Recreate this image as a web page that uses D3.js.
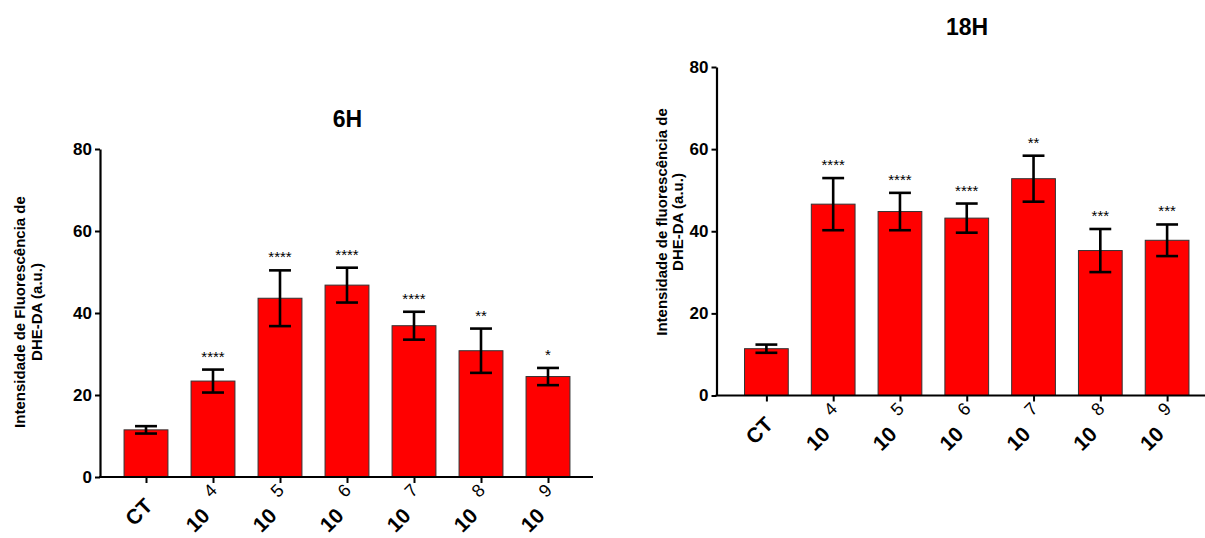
<!DOCTYPE html>
<html><head><meta charset="utf-8">
<script src="https://cdn.jsdelivr.net/npm/d3@7"></script>
<style>
body{margin:0;background:#fff}
text{font-family:"Liberation Sans",Arial,Helvetica,sans-serif;fill:#000}
</style>
</head><body>
<svg id="c" width="1205" height="538" xmlns="http://www.w3.org/2000/svg"></svg>
<script>
// ---- data ----
const categories = ["CT","10^4","10^5","10^6","10^7","10^8","10^9"];
const labelBase = ["CT","10","10","10","10","10","10"];
const labelExp  = ["","4","5","6","7","8","9"];
const yTicks = [0,20,40,60,80];

const mean6H = [11.5, 23.4, 43.6, 46.8, 36.9, 30.8, 24.5];
const sem6H  = [0.9, 2.8, 6.8, 4.25, 3.4, 5.4, 2.1];
const sig6H  = ["","****","****","****","****","**","*"];

const mean18H = [11.4, 46.6, 44.8, 43.2, 52.8, 35.3, 37.8];
const sem18H  = [1.0, 6.35, 4.55, 3.55, 5.6, 5.25, 3.85];
const sig18H  = ["","****","****","****","**","***","***"];

const svg = d3.select("#c");
svg.append("rect").attr("width",1205).attr("height",538).attr("fill","#fff");

function drawPanel(cfg){
  const g = svg.append("g");
  const y = d3.scaleLinear().domain([0,80]).range([cfg.y0, cfg.yTop]);
  const x = d3.scalePoint().domain(categories).range(cfg.pointRange).padding(0.5);
  const bw = x.step()*0.655;
  const data = categories.map((c,i)=>({c, m:cfg.mean[i], s:cfg.sem[i], sig:cfg.sig[i], base:labelBase[i], exp:labelExp[i]}));

  // bars
  g.selectAll("rect.bar").data(data).join("rect").attr("class","bar")
    .attr("x", d=>x(d.c)-bw/2).attr("y", d=>y(d.m))
    .attr("width", bw).attr("height", d=>cfg.y0-y(d.m))
    .attr("fill","#ff0000").attr("stroke","#333").attr("stroke-width",1);

  // error bars
  const cap = bw*0.5;
  const eb = g.selectAll("g.eb").data(data).join("g").attr("class","eb")
    .attr("stroke","#000").attr("stroke-width",2.6).attr("fill","none");
  eb.append("line").attr("x1",d=>x(d.c)).attr("x2",d=>x(d.c))
    .attr("y1",d=>y(d.m+d.s)).attr("y2",d=>y(d.m-d.s));
  eb.append("line").attr("x1",d=>x(d.c)-cap/2).attr("x2",d=>x(d.c)+cap/2)
    .attr("y1",d=>y(d.m+d.s)).attr("y2",d=>y(d.m+d.s));
  eb.append("line").attr("x1",d=>x(d.c)-cap/2).attr("x2",d=>x(d.c)+cap/2)
    .attr("y1",d=>y(d.m-d.s)).attr("y2",d=>y(d.m-d.s));

  // significance
  g.selectAll("text.sig").data(data).join("text").attr("class","sig")
    .attr("x",d=>x(d.c)).attr("y",d=>y(d.m+d.s)-8)
    .attr("text-anchor","middle").attr("font-size",15).text(d=>d.sig);

  // y axis
  const ya = g.append("g").attr("transform",`translate(${cfg.axisX},0)`)
    .call(d3.axisLeft(y).tickValues(yTicks).tickSize(5).tickSizeOuter(0).tickPadding(3));
  ya.select(".domain").attr("stroke","#000").attr("stroke-width",2.2);
  ya.selectAll(".tick line").attr("stroke","#000").attr("stroke-width",2);
  ya.selectAll(".tick text").attr("font-size",17).attr("font-weight","bold")
    .attr("font-family","Liberation Sans, Arial, sans-serif").attr("fill","#000");

  // x axis
  const xa = g.append("g").attr("transform",`translate(0,${cfg.y0})`)
    .call(d3.axisBottom(x).tickSize(6).tickSizeOuter(0).tickFormat(""));
  xa.select(".domain").remove();
  xa.selectAll(".tick line").attr("stroke","#000").attr("stroke-width",2);
  g.append("line").attr("x1",cfg.axisX-1).attr("x2",cfg.xEnd)
    .attr("y1",cfg.y0).attr("y2",cfg.y0).attr("stroke","#000").attr("stroke-width",2.2);

  // x labels
  const lab = g.selectAll("text.xl").data(data).join("text").attr("class","xl")
    .attr("transform",d=>`translate(${x(d.c)-2},${cfg.y0+40}) rotate(-45)`)
    .attr("text-anchor","middle");
  lab.append("tspan").attr("font-size",21).attr("font-weight","bold").text(d=>d.base);
  lab.filter(d=>d.exp).append("tspan").attr("font-size",18).attr("dx",13).attr("dy",-13).text(d=>d.exp);

  // y title
  const yt = g.append("text").attr("font-size",15).attr("font-weight","bold")
    .attr("text-anchor","middle")
    .attr("transform",`translate(${cfg.yTitleX},${cfg.yTitleCY}) rotate(-90)`);
  cfg.yTitle.forEach((t,i)=>yt.append("tspan").attr("x",0).attr("y",i*cfg.yTitleGap).text(t));

  // title
  g.append("text").attr("x",cfg.titleX).attr("y",cfg.titleY).attr("text-anchor","middle")
    .attr("font-size",23).attr("font-weight","bold").text(cfg.title);
}

drawPanel({
  title:"6H", titleX:347.5, titleY:127,
  mean:mean6H, sem:sem6H, sig:sig6H,
  axisX:100, xEnd:593, y0:477, yTop:149, pointRange:[112.5,581.5],
  yTitle:["Intensidade de Fluorescência de","DHE-DA (a.u.)"], yTitleX:25, yTitleCY:312, yTitleGap:16.8
});
drawPanel({
  title:"18H", titleX:967, titleY:35,
  mean:mean18H, sem:sem18H, sig:sig18H,
  axisX:716.5, xEnd:1212, y0:395.5, yTop:67, pointRange:[733,1200.5],
  yTitle:["Intensidade de fluorescência de","DHE-DA (a.u.)"], yTitleX:666.5, yTitleCY:222, yTitleGap:16
});
</script>
</body></html>
